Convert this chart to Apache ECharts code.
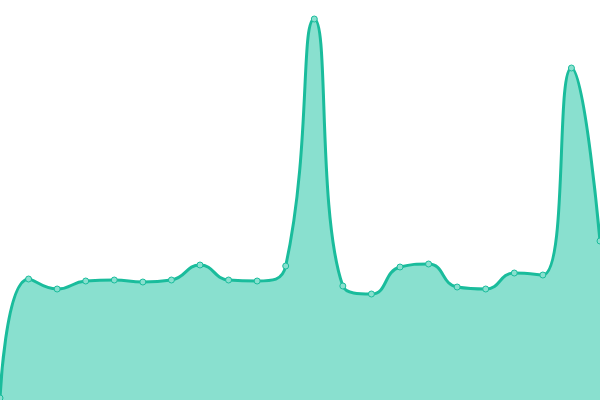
<!DOCTYPE html>
<html>
<head>
<meta charset="utf-8">
<script src="https://cdn.jsdelivr.net/npm/echarts@6/dist/echarts.min.js"></script>
<style>
  html, body { margin: 0; padding: 0; background: #fff; }
  #chart { width: 600px; height: 400px; }
</style>
</head>
<body>
<div id="chart"></div>
<script>
// values (axis 0..400, hidden)
const labels = ['1', '2', '3', '4', '5', '6', '7', '8', '9', '10', '11',
  '12', '13', '14', '15', '16', '17', '18', '19', '20', '21', '22'];
const values = [2, 121, 111, 119, 120, 118, 120, 135, 120, 119, 134,
  381, 114, 106, 133, 136, 113, 111, 127, 125, 332, 159];

const chart = echarts.init(document.getElementById('chart'));

chart.setOption({
  animation: false,
  grid: { left: 0, right: 0, top: 0, bottom: 0 },
  xAxis: {
    type: 'category',
    data: labels,
    boundaryGap: false,
    show: false
  },
  yAxis: {
    type: 'value',
    min: 0,
    max: 400,
    show: false
  },
  series: [{
    type: 'line',
    data: values,
    smooth: true,
    symbol: 'circle',
    symbolSize: 6,
    lineStyle: { color: '#1abc9c', width: 3 },
    itemStyle: { color: '#89e0cf', borderColor: '#1abc9c', borderWidth: 1 },
    areaStyle: { color: '#89e0cf', opacity: 1 }
  }]
});
</script>
</body>
</html>
